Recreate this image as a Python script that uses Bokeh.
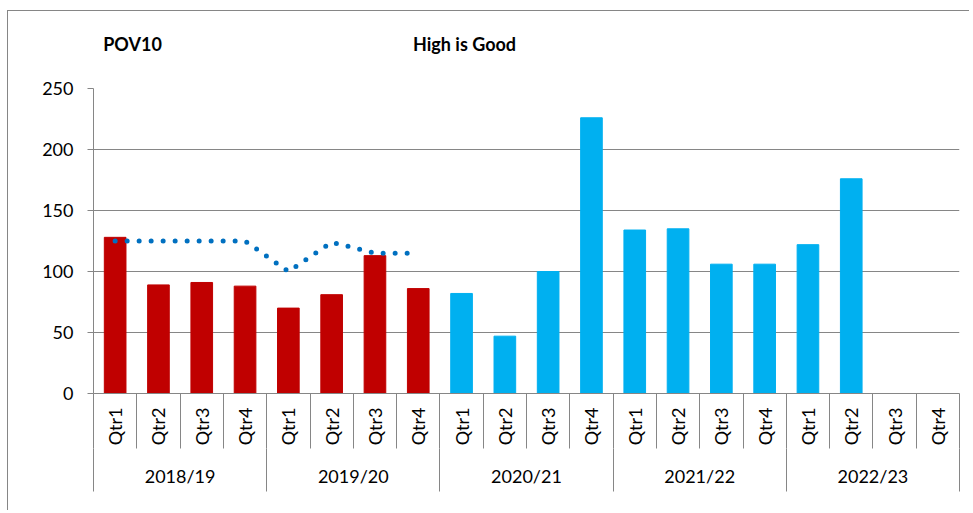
import math
from bokeh.plotting import figure
from bokeh.models import Range1d, LinearAxis, FixedTicker, ColumnDataSource
from bokeh.embed import file_html
from bokeh.resources import INLINE

# ---- data ----
years = ["2018/19", "2019/20", "2020/21", "2021/22", "2022/23"]
quarters = ["Qtr1", "Qtr2", "Qtr3", "Qtr4"]
pov10 = [128, 89, 91, 88,
         70, 81, 113, 86,
         82, 47, 100, 226,
         134, 135, 106, 106,
         122, 176, None, None]
trend = [125, 125, 125, 125, 100, 124, 115, 115]
y_ticks = [0, 50, 100, 150, 200, 250]
titles = ["POV10", "High is Good"]
red_years = ["2018/19", "2019/20"]

# ---- style ----
FONT = "Lato"
GREY = "#868686"
RED = "#C00000"
BLUE = "#00B0F0"
LINE = "#0070C0"
FS = "18px"

n = len(years) * len(quarters)
idx = list(range(n))
cat_year = [y for y in years for q in quarters]
cat_label = [q for y in years for q in quarters]

bx, bt, bc = [], [], []
for i, v in zip(idx, pov10):
    if v is None:
        continue
    bx.append(i)
    bt.append(v)
    bc.append(RED if cat_year[i] in red_years else BLUE)
bars = ColumnDataSource(dict(x=bx, top=bt, color=bc))
tr = ColumnDataSource(dict(x=idx[:len(trend)], y=trend))

p = figure(width=962, height=500,
           x_range=Range1d(-0.5, n - 0.5), y_range=Range1d(0, 250),
           x_axis_type=None, output_backend="svg", toolbar_location=None,
           title=None,
           min_border_left=85, min_border_right=11,
           min_border_top=77, min_border_bottom=118,
           background_fill_color="white", border_fill_color="white",
           outline_line_color=None)
p.margin = (10, 0, 0, 7)
p.styles = {"border-left": "1px solid " + GREY, "border-top": "1px solid " + GREY}
ny = len(years)
p.extra_x_ranges = {"years": Range1d(-0.5, ny - 0.5),
                    "title": Range1d(93, 959)}

# y axis + grid
yax = p.yaxis[0]
yax.ticker = FixedTicker(ticks=y_ticks)
yax.axis_line_color = GREY
yax.major_tick_line_color = GREY
yax.major_tick_out = 6
yax.major_tick_in = 0
yax.minor_tick_line_color = None
yax.major_label_text_font = FONT
yax.major_label_text_font_size = FS
yax.major_label_text_color = "black"
yax.major_label_standoff = 14
p.ygrid.ticker = FixedTicker(ticks=y_ticks)
p.ygrid.grid_line_color = GREY

# quarter axis (separators as minor ticks)
qax = LinearAxis(
    ticker=FixedTicker(ticks=idx, minor_ticks=[i - 0.5 for i in range(n + 1)]),
    major_label_overrides={i: lab for i, lab in zip(idx, cat_label)},
    major_label_orientation=math.pi / 2,
    major_tick_out=0, major_tick_in=0, major_tick_line_color=None,
    minor_tick_out=55, minor_tick_in=0, minor_tick_line_color=GREY,
    axis_line_color=GREY, major_label_standoff=-41,
    major_label_text_font=FONT, major_label_text_font_size=FS,
    major_label_text_color="black")
p.add_layout(qax, "below")

# year axis
yrax = LinearAxis(
    x_range_name="years",
    ticker=FixedTicker(ticks=list(range(ny)), minor_ticks=[i - 0.5 for i in range(ny + 1)]),
    major_label_overrides={i: y for i, y in enumerate(years)},
    major_tick_out=0, major_tick_in=0, major_tick_line_color=None,
    minor_tick_out=43, minor_tick_in=0, minor_tick_line_color=GREY,
    axis_line_color=None, major_label_standoff=-27,
    major_label_text_font=FONT, major_label_text_font_size=FS,
    major_label_text_color="black")
p.add_layout(yrax, "below")

# heading texts, as labels of an unmarked axis above
title_pos = [132, 464]
tax = LinearAxis(
    x_range_name="title",
    ticker=FixedTicker(ticks=title_pos, minor_ticks=[]),
    major_label_overrides={k: t for k, t in zip(title_pos, titles)},
    major_tick_out=0, major_tick_in=0, major_tick_line_color=None,
    minor_tick_out=0, minor_tick_in=0, minor_tick_line_color=None,
    axis_line_color=None, major_label_standoff=34,
    major_label_text_font=FONT, major_label_text_font_size=FS,
    major_label_text_font_style="bold", major_label_text_color="black")
p.add_layout(tax, "above")

# marks
p.vbar(x="x", top="top", width=0.5, color="color", source=bars)
p.line(x="x", y="y", source=tr, line_color=LINE, line_width=5,
       line_dash="0 12", line_cap="round")

open("out.html", "w").write(file_html(p, INLINE))
